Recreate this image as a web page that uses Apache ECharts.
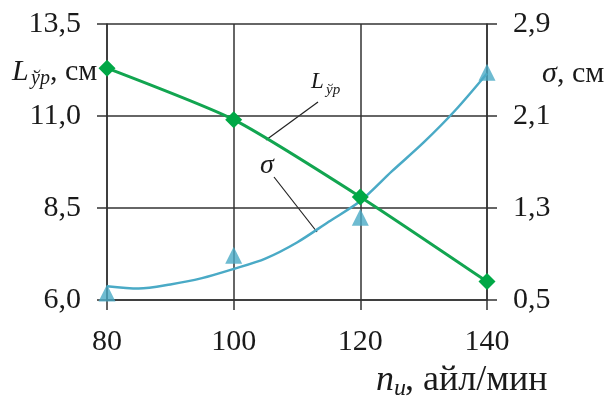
<!DOCTYPE html>
<html>
<head>
<meta charset="utf-8">
<title>L and sigma vs n</title>
<script src="https://cdn.jsdelivr.net/npm/echarts@6/dist/echarts.min.js"></script>
<style>
	html, body { margin: 0; padding: 0; background: #fff; }
	#chart { width: 611px; height: 403px; }
</style>
</head>
<body>
<div id="chart"></div>
<script>
// x: n, rpm
var nValues = [80, 100, 120, 140];
// L (left axis), cm
var lValues = [12.3, 10.9, 8.8, 6.5];
// sigma points (right axis), cm
var sigmaValues = [0.56, 0.89, 1.22, 2.48];
// sigma trend curve
var trendX = [80, 85, 90, 95, 100, 105, 110, 115, 120, 125, 130, 135, 140];
var trendSigma = [0.62, 0.60, 0.635, 0.69, 0.77, 0.86, 1.0, 1.18, 1.36, 1.62, 1.87, 2.15, 2.47];

// axis ranges (ticks)
var leftMin = 6.0, leftMax = 13.5, leftStep = 2.5;
var rightMin = 0.5, rightMax = 2.9, rightStep = 0.8;

var FONT = 'Liberation Serif';
var GREEN_LINE = '#12a550';
var GREEN_MARK = '#00a846';
var BLUE = '#4aaac6';
var GRID = '#333';

function fmt(v) {
	return v.toFixed(1).replace('.', ',');
}

// axes start at 0 so that the interval lines up, labels add the offset back
var lData = [];
for(var i = 0; i < nValues.length; i++) {
	lData.push([nValues[i], lValues[i] - leftMin]);
}
var sData = [];
for(var i = 0; i < nValues.length; i++) {
	sData.push([nValues[i], sigmaValues[i] - rightMin]);
}
var tData = [];
for(var i = 0; i < trendX.length; i++) {
	tData.push([trendX[i], trendSigma[i] - rightMin]);
}

var myChart = echarts.init(document.getElementById('chart'));

function txt(x, y, s, size, italic, align) {
	return {
		type: 'text',
		x: x,
		y: y,
		silent: true,
		style: {
			text: s,
			fill: '#1a1a1a',
			font: (italic ? 'italic ' : '') + size + 'px "' + FONT + '"',
			align: align || 'left',
			verticalAlign: 'middle'
		}
	};
}

function leader(x1, y1, x2, y2) {
	return {
		type: 'line',
		silent: true,
		shape: { x1: x1, y1: y1, x2: x2, y2: y2 },
		style: { stroke: '#222', lineWidth: 1.2 }
	};
}

var option = {
	animation: false,
	backgroundColor: '#fff',
	grid: {
		left: 107,
		right: 124,
		top: 24,
		bottom: 103,
		containLabel: false
	},
	xAxis: {
		type: 'value',
		min: 80,
		max: 140,
		interval: 20,
		axisLine: { show: true, lineStyle: { color: GRID, width: 1.5 } },
		axisTick: { show: true, inside: false, length: 10, lineStyle: { color: GRID, width: 1.5 } },
		splitLine: { show: true, lineStyle: { color: GRID, width: 1.5 } },
		axisLabel: {
			margin: 27,
			fontFamily: FONT,
			fontSize: 30,
			color: '#1a1a1a'
		}
	},
	yAxis: [
		{
			type: 'value',
			position: 'left',
			min: 0,
			max: leftMax - leftMin,
			interval: leftStep,
			axisLine: { show: true, lineStyle: { color: GRID, width: 1.5 } },
			axisTick: { show: true, inside: false, length: 10, lineStyle: { color: GRID, width: 1.5 } },
			splitLine: { show: true, lineStyle: { color: GRID, width: 1.5 } },
			axisLabel: {
				margin: 26,
				fontFamily: FONT,
				fontSize: 30,
				color: '#1a1a1a',
				formatter: function(v) { return fmt(v + leftMin); }
			}
		},
		{
			type: 'value',
			position: 'right',
			min: 0,
			max: rightMax - rightMin,
			interval: rightStep,
			axisLine: { show: true, lineStyle: { color: GRID, width: 1.5 } },
			axisTick: { show: true, inside: false, length: 10, lineStyle: { color: GRID, width: 1.5 } },
			splitLine: { show: false },
			axisLabel: {
				margin: 26,
				fontFamily: FONT,
				fontSize: 30,
				color: '#1a1a1a',
				formatter: function(v) { return fmt(v + rightMin); }
			}
		}
	],
	series: [
		{
			// sigma trend
			type: 'line',
			yAxisIndex: 1,
			data: tData,
			smooth: 0.3,
			symbol: 'none',
			lineStyle: { color: BLUE, width: 2.5 },
			z: 2
		},
		{
			// sigma measured
			type: 'scatter',
			yAxisIndex: 1,
			data: sData,
			symbol: 'triangle',
			symbolSize: [17, 17],
			itemStyle: { color: BLUE },
			z: 3
		},
		{
			// L
			type: 'line',
			yAxisIndex: 0,
			data: lData,
			smooth: 0.2,
			symbol: 'diamond',
			symbolSize: 17,
			showAllSymbol: true,
			lineStyle: { color: GREEN_LINE, width: 3 },
			itemStyle: { color: GREEN_MARK },
			z: 4
		}
	],
	graphic: [
		// left axis name
		txt(12, 72, 'L', 30, true),
		txt(31, 79, 'ўр', 20, true),
		txt(50, 72, ', см', 30, false),
		// right axis name
		txt(542, 74, 'σ', 30, true),
		txt(557, 74, ', см', 30, false),
		// x axis name
		txt(376, 381, 'n', 36, true),
		txt(394, 389, 'и', 24, true),
		txt(405, 381, ', айл/мин', 36, false),
		// annotations
		txt(311, 82, 'L', 23, true),
		txt(326, 90, 'ўр', 15, true),
		leader(318, 102, 266, 140),
		txt(260, 166, 'σ', 28, true),
		leader(274, 177, 317, 232)
	]
};

myChart.setOption(option);
</script>
</body>
</html>
